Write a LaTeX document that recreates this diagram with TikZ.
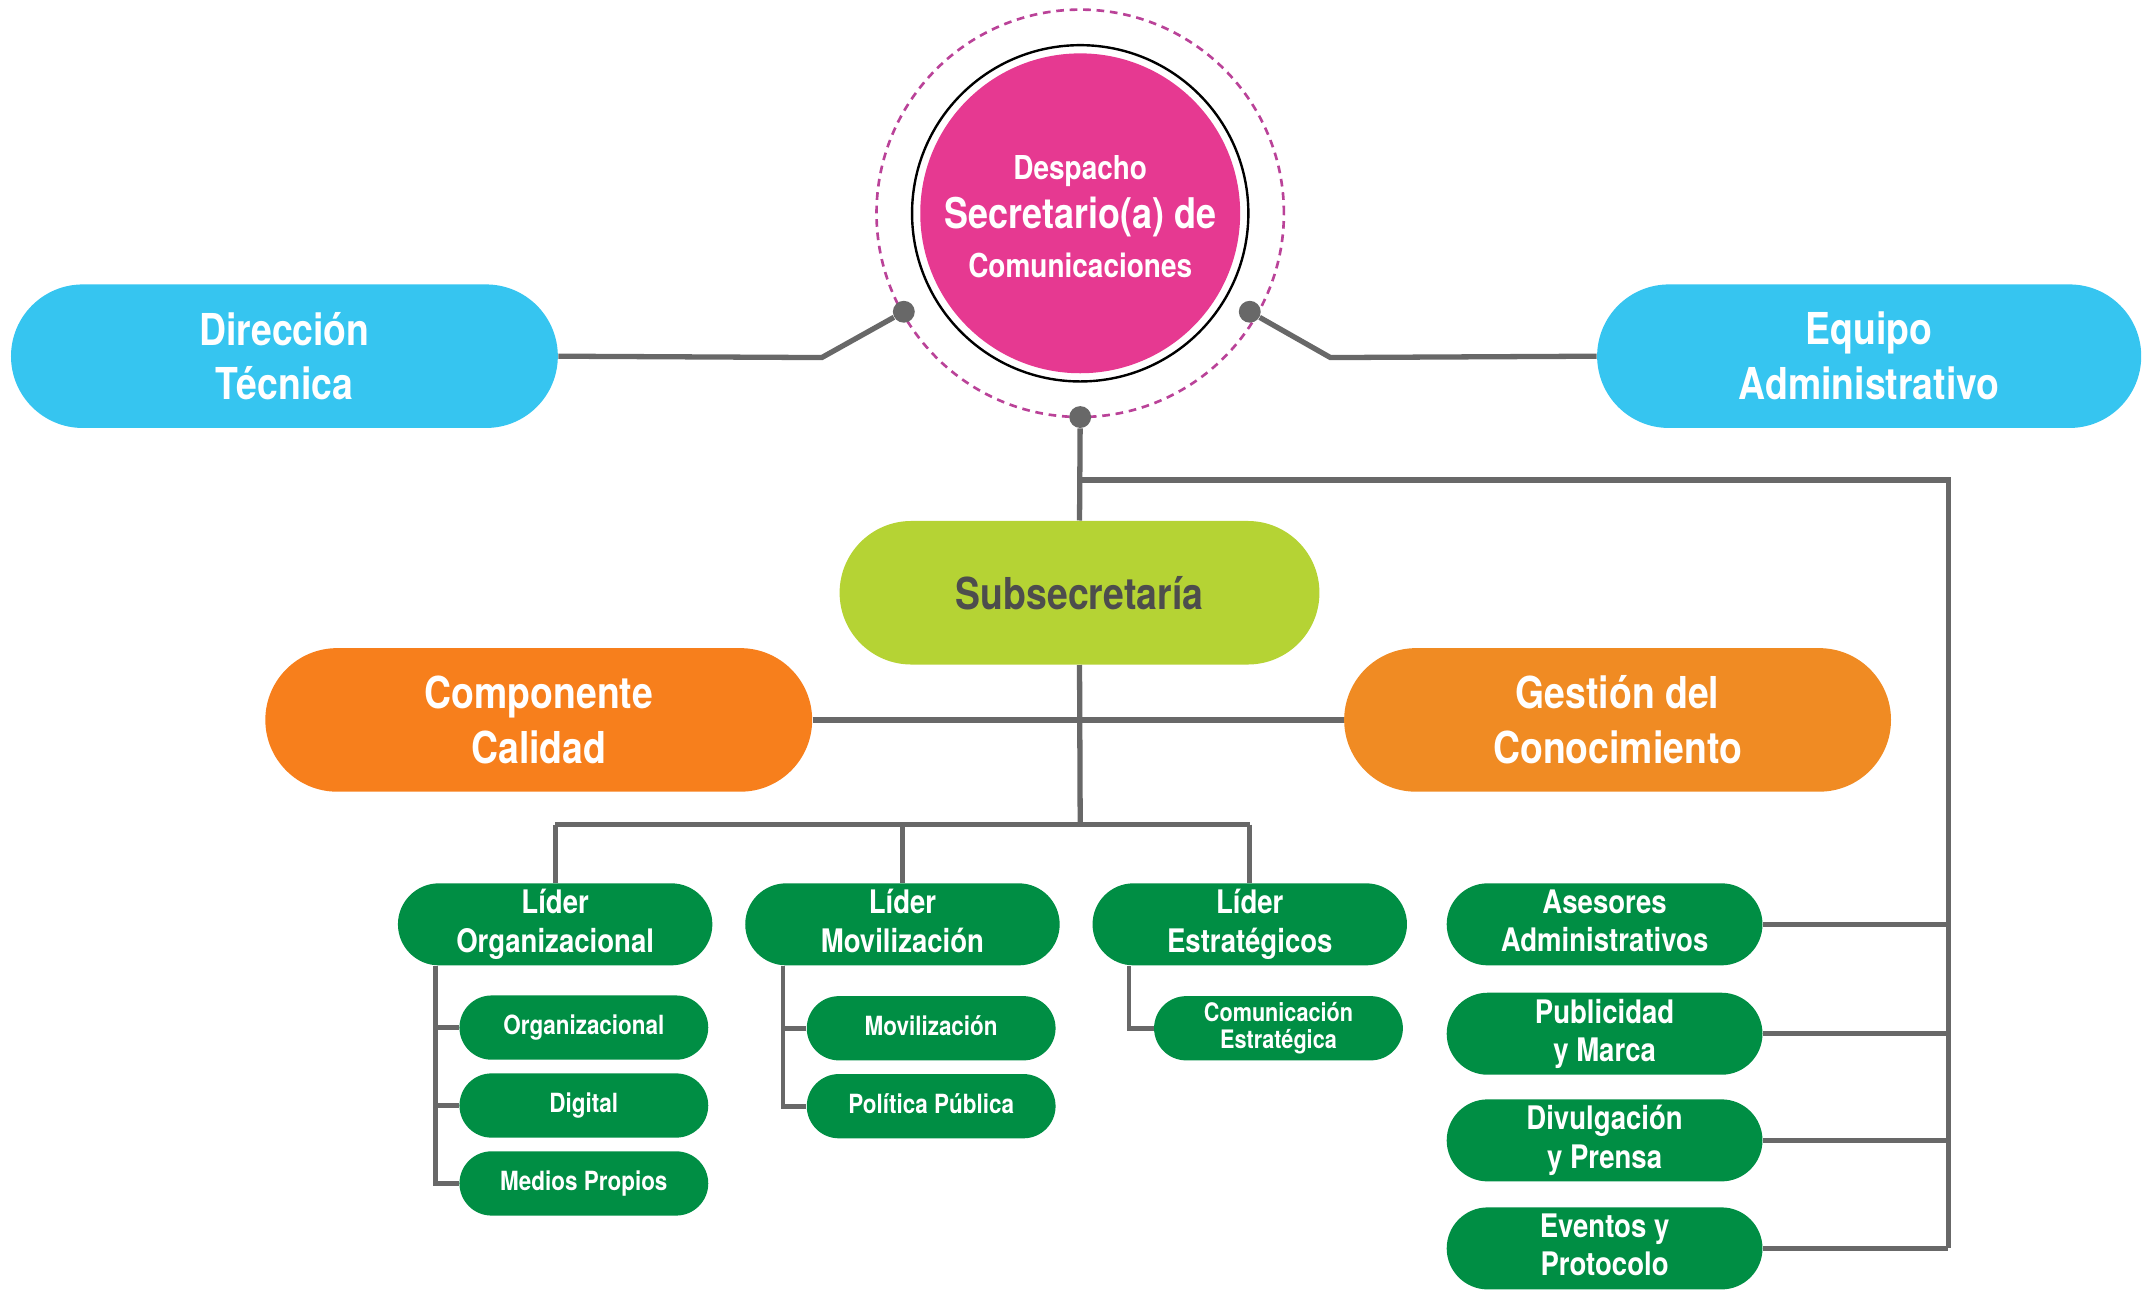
\documentclass[tikz,border=0pt]{standalone}
\usepackage{fontspec}
\setmainfont{TeX Gyre Heros}[FakeStretch=0.85]
\usepackage{xcolor}
\usepackage{tikz}
\usetikzlibrary{positioning}

\definecolor{despink}{RGB}{230,57,145}
\definecolor{dashpink}{RGB}{186,66,152}
\definecolor{dtblue}{RGB}{54,197,240}
\definecolor{sublime}{RGB}{181,211,52}
\definecolor{subgray}{RGB}{77,77,77}
\definecolor{ccorange}{RGB}{247,127,28}
\definecolor{gcorange}{RGB}{240,139,35}
\definecolor{orggreen}{RGB}{0,142,68}
\definecolor{linegray}{RGB}{104,104,104}

\newcommand{\orgbig}{\fontsize{18.3}{22.8}\selectfont\bfseries}
\newcommand{\orgmid}{\fontsize{13.5}{16}\selectfont\bfseries}
\newcommand{\orgsmall}{\fontsize{11}{13}\selectfont\bfseries}
\newcommand{\orgtiny}{\fontsize{10.6}{11.4}\selectfont\bfseries}
% struts so the green boxes line up their text
\newcommand{\topstrut}[1]{\rule{0pt}{#1em}}
\newcommand{\footstrut}{\rule[-.22em]{0pt}{.22em}}

\begin{document}
\begin{tikzpicture}[x=0.02cm, y=-0.02cm,
  pill/.style={inner sep=0pt, text=white, align=center},
  bigpill/.style={pill, fill=#1, minimum width=8cm, minimum height=2.1cm, rounded corners=1.05cm,
    font=\orgbig},
  leader/.style={pill, fill=orggreen, minimum width=4.6cm, minimum height=1.2cm, rounded corners=.6cm,
    font=\orgmid, execute at begin node=\topstrut{1.2}, execute at end node=\footstrut},
  subunit/.style={pill, fill=orggreen, minimum width=3.64cm, minimum height=.94cm, rounded corners=.47cm,
    font=\orgsmall, execute at begin node=\topstrut{.75}, execute at end node=\footstrut},
  dot/.style={circle, fill=linegray, inner sep=0pt, minimum size=.32cm},
  link/.style={draw=linegray, line width=2.2pt},
  twig/.style={draw=linegray, line width=2pt}]

  \useasboundingbox (0,0) rectangle (1568,943);

  % despacho
  \coordinate (desp) at (790,156);
  \draw[dashpink, line width=1.1pt, dash pattern=on 3.2pt off 2.4pt] (desp) circle[radius=2.98cm];
  \draw[black, line width=1pt] (desp) circle[radius=2.46cm];
  \fill[despink] (desp) circle[radius=2.34cm];
  \node[text=white, align=center, inner sep=0pt,
    font=\fontsize{13.7}{20.5}\selectfont\bfseries] (sec) at (790,158.5)
    {Despacho\\{\fontsize{17.6}{20.5}\selectfont Secretario(a) de}\\Comunicaciones};

  \node[dot] (dotL) at (661,228) {};
  \node[dot] (dotR) at (914,228) {};
  \node[dot] (dotB) at (790,305) {};

  % top level
  \node[bigpill=dtblue] (dt) at (208,260.5) {Dirección\\Técnica};
  \node[bigpill=dtblue, minimum width=7.96cm] (ea) at (1367,260.5) {Equipo\\Administrativo};
  \node[bigpill=sublime, minimum width=7.02cm, text=subgray] (sub) at (789.5,433.5) {Subsecretaría};
  \node[bigpill=ccorange] (cc) at (394,526.5) {Componente\\Calidad};
  \node[bigpill=gcorange] (gc) at (1183,526.5) {Gestión del\\Conocimiento};

  % leaders
  \node[leader] (lo) at (406,676) {Líder\\Organizacional};
  \node[leader] (lm) at (660,676) {Líder\\Movilización};
  \node[leader] (le) at (914,676) {Líder\\Estratégicos};

  \node[subunit] (or) at (427,751.5) {Organizacional};
  \node[subunit] (dg) at (427,808.5) {Digital};
  \node[subunit] (mp) at (427,865.5) {Medios Propios};
  \node[subunit] (mv) at (681,752) {Movilización};
  \node[subunit] (pp) at (681,809) {Política Pública};
  \node[subunit, font=\orgtiny] (ce) at (935,752) {Comunicación\\Estratégica};

  % right column
  \node[leader, minimum width=4.62cm] (aa) at (1173.5,676) {Asesores\\Administrativos};
  \node[leader, minimum width=4.62cm] (pm) at (1173.5,756) {Publicidad\\y Marca};
  \node[leader, minimum width=4.62cm] (dp) at (1173.5,834) {Divulgación\\y Prensa};
  \node[leader, minimum width=4.62cm] (ep) at (1173.5,913) {Eventos y\\Protocolo};

  % connectors
  \coordinate (kneeL) at (601,261.5);
  \coordinate (kneeR) at (973,261.5);
  \draw[link] (dotL) -- (kneeL) -- (dt.east);
  \draw[link] (dotR) -- (kneeR) -- (ea.west);
  \draw[link] (dotB) -- (sub.north);

  \coordinate (hub) at (790,351);
  \coordinate (spine) at (1425,351);
  \draw[link] (hub) -- (spine) -- (spine |- ep.east);
  \foreach \n in {aa,pm,dp,ep}
    \draw[link] (\n.east) -- (\n.east -| spine);

  \draw[link] (cc.east) -- (gc.west);
  \coordinate (bar) at (790,603);
  \draw[link] (sub.south) -- (bar);
  \draw[link] (lo.north |- bar) -- (le.north |- bar);
  \foreach \n in {lo,lm,le}
    \draw[twig] (\n.north |- bar) -- (\n.north);

  \coordinate (loB) at ([xshift=.56cm]lo.south west);
  \coordinate (lmB) at ([xshift=.56cm]lm.south west);
  \coordinate (leB) at ([xshift=.54cm]le.south west);
  \draw[twig] (loB) |- (mp.west);
  \foreach \n in {or,dg}
    \draw[twig] (\n.west) -- (\n.west -| loB);
  \draw[twig] (lmB) |- (pp.west);
  \draw[twig] (mv.west) -- (mv.west -| lmB);
  \draw[twig] (leB) |- (ce.west);
\end{tikzpicture}
\end{document}
